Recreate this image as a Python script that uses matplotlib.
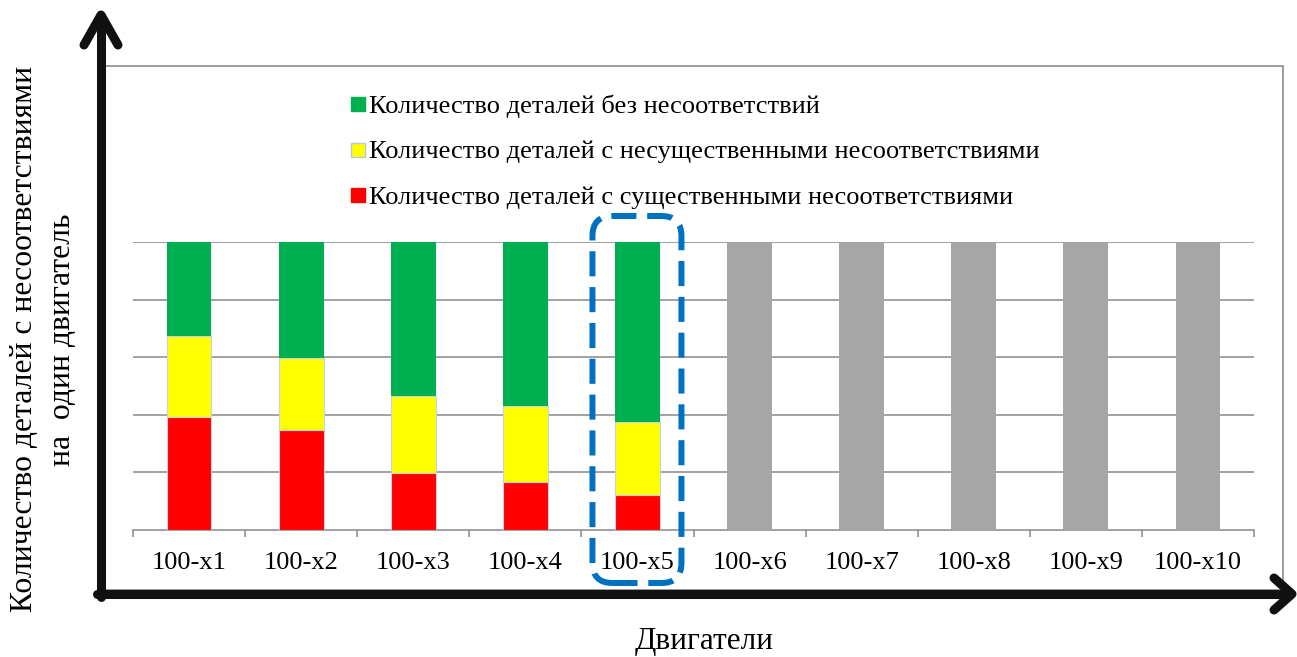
import matplotlib
matplotlib.use('Agg')
import matplotlib.pyplot as plt
from matplotlib.lines import Line2D
from matplotlib.patches import Rectangle, FancyBboxPatch
from matplotlib.transforms import IdentityTransform

plt.rcParams['font.family'] = ['Liberation Serif', 'DejaVu Serif']

engines = ['100-x1', '100-x2', '100-x3', '100-x4', '100-x5',
           '100-x6', '100-x7', '100-x8', '100-x9', '100-x10']
# parts with major non-conformities / minor ones / without, per engine (tested ones)
red_vals = [1.97, 1.74, 0.99, 0.84, 0.61]
yellow_vals = [1.39, 1.25, 1.33, 1.31, 1.26]
green_vals = [1.64, 2.01, 2.68, 2.85, 3.13]
# engines not tested yet
gray_vals = [5, 5, 5, 5, 5]
highlight = 4

legend_labels = ['Количество деталей без несоответствий',
                 'Количество деталей с несущественными несоответствиями',
                 'Количество деталей с существенными несоответствиями']
legend_colors = ['#00B050', '#FFFF00', '#FF0000']

W, H = 1297, 657
fig = plt.figure(figsize=(W / 100, H / 100), dpi=100)


def fx(px):
    return px / W


def fy(py):
    return 1 - py / H


ax = fig.add_axes([fx(133), fy(530), fx(1254) - fx(133), fy(242) - fy(530)])

n = len(red_vals)
xs = list(range(n))
edge = '#c5d2e6'
ax.bar(xs, red_vals, width=0.4, color='#FF0000', edgecolor=edge, linewidth=0.8, zorder=3)
bottom2 = [r for r in red_vals]
ax.bar(xs, yellow_vals, width=0.4, bottom=bottom2, color='#FFFF00', edgecolor=edge,
       linewidth=0.8, zorder=3)
bottom3 = [r + y for r, y in zip(red_vals, yellow_vals)]
ax.bar(xs, green_vals, width=0.4, bottom=bottom3, color='#00B050', linewidth=0, zorder=3)
xs_gray = list(range(n, len(engines)))
ax.bar(xs_gray, gray_vals, width=0.4, color='#A6A6A6', linewidth=0, zorder=3)

ax.set_xlim(-0.5, len(engines) - 0.5)
ax.set_ylim(0, 5)
ax.set_yticks([1, 2, 3, 4, 5])
ax.set_yticklabels([])
ax.tick_params(axis='y', length=0)
ax.grid(axis='y', color='#878787', linewidth=1.1, zorder=0)
ax.set_axisbelow(True)
for s in ['left', 'right', 'top']:
    ax.spines[s].set_visible(False)
ax.spines['bottom'].set_color('#878787')
ax.spines['bottom'].set_linewidth(1.1)

ax.set_xticks(range(len(engines)))
ax.set_xticklabels(engines, fontsize=19)
ax.set_xticks([i - 0.5 for i in range(len(engines) + 1)], minor=True)
ax.tick_params(axis='x', which='major', length=0, pad=16)
ax.tick_params(axis='x', which='minor', length=5, width=1.1, color='#878787')

# plot area frame
fig.add_artist(Rectangle((fx(105), fy(590)), fx(1283) - fx(105), fy(66) - fy(590),
                         transform=fig.transFigure, fill=False, edgecolor='#8c8c8c',
                         linewidth=1.2, zorder=1))

# legend
for i, (lab, col) in enumerate(zip(legend_labels, legend_colors)):
    yc = 104 + i * 45.5
    fig.add_artist(Rectangle((fx(351), fy(yc + 7)), fx(14), 14 / H, transform=fig.transFigure,
                             facecolor=col, edgecolor='#b4c6e7' if i == 1 else col,
                             linewidth=1.0))
    fig.text(fx(369), fy(yc), lab, fontsize=19, ha='left', va='center_baseline')

# black arrows
arrow_kw = dict(color='#111111', linewidth=6.5, solid_capstyle='round',
                solid_joinstyle='round', transform=fig.transFigure, zorder=10)
fig.add_artist(Line2D([fx(101), fx(101)], [fy(597), fy(16)], **arrow_kw))
fig.add_artist(Line2D([fx(84), fx(101), fx(118)], [fy(45), fy(15), fy(45)], **arrow_kw))
fig.add_artist(Line2D([fx(97), fx(1290)], [fy(594), fy(594)], **arrow_kw))
fig.add_artist(Line2D([fx(1274), fx(1292), fx(1274)], [fy(578), fy(594), fy(610)], **arrow_kw))

# dashed highlight around the current engine
fig.canvas.draw()
cx, _ = ax.transData.transform((highlight, 0))
x0, x1 = cx - 45, cx + 44
y_top, y_bot = H - 216, H - 583
fig.add_artist(FancyBboxPatch((x0, y_bot), x1 - x0, y_top - y_bot,
                              boxstyle='round,pad=0,rounding_size=20',
                              transform=IdentityTransform(), fill=False,
                              edgecolor='#0070C0', linewidth=4.3,
                              linestyle=(0, (4.2, 1.8)), zorder=12))

# axis titles
fig.text(fx(704), fy(641), 'Двигатели', fontsize=22.5, ha='center', va='center')
fig.text(fx(25), fy(339), 'Количество деталей с несоответствиями', fontsize=22.8,
         rotation=90, ha='center', va='center')
fig.text(fx(63), fy(340), 'на  один двигатель', fontsize=22.8,
         rotation=90, ha='center', va='center')

fig.savefig('out.png', dpi=100)
